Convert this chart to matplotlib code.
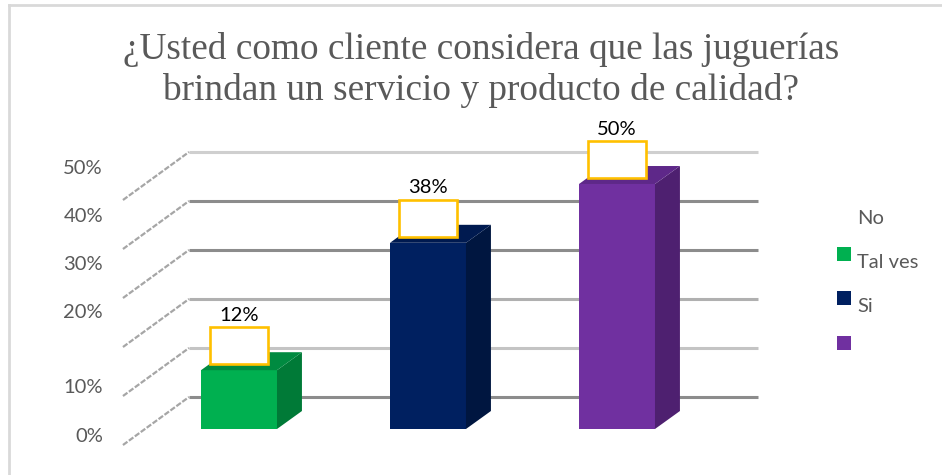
import matplotlib
matplotlib.use("Agg")
import matplotlib.pyplot as plt
from matplotlib.patches import Polygon, Rectangle
from matplotlib.lines import Line2D

# data
categories = ["No", "Tal ves", "Si"]
values = [0.12, 0.38, 0.50]
labels = ["12%", "38%", "50%"]
front_colors = ["#00B050", "#002060", "#7030A0"]
side_colors = ["#007A37", "#001640", "#4E2070"]
top_colors = ["#008A40", "#001a50", "#5E2889"]
tick_vals = [0.0, 0.1, 0.2, 0.3, 0.4, 0.5]
tick_labels = ["0%", "10%", "20%", "30%", "40%", "50%"]
title = "¿Usted como cliente considera que las juguerías\nbrindan un servicio y producto de calidad?"

# geometry of the fake 3D look (data units)
bar_w = 0.402
dep_x, dep_y = 0.132, 0.0367       # bar depth
back_dy = 0.0653                    # back wall offset
wall_left, wall_right = -0.2646, 2.746
floor_x, floor_dy = -0.614, -0.0327
tick_label_shift = [-0.016, -0.016, 0.037, 0.035, 0.033, 0.031]
grid_colors = ["#8c8c8c", "#c4c4c4", "#b0b0b0", "#8c8c8c", "#8c8c8c", "#cfcfcf"]

plt.rcParams["font.family"] = ["Lato", "DejaVu Sans"]

fig = plt.figure(figsize=(9.42, 4.75), dpi=100)
ax = fig.add_axes([0, 0, 1, 1])
ax.set_xlim(-1.2646, 3.7196)
ax.set_ylim(-0.0939, 0.8755)
ax.axis("off")

# gridlines on the back wall + diagonal lines on the side wall
for t, gc in zip(tick_vals, grid_colors):
    ax.plot([wall_left, wall_right], [t + back_dy, t + back_dy], color=gc, lw=2.2,
            solid_capstyle="butt", zorder=1)
    ax.plot([floor_x, wall_left], [t + floor_dy, t + back_dy], color="#a6a6a6", lw=1.6,
            ls=(0, (2.5, 0.8)), zorder=1)

for t, lab, s in zip(tick_vals, tick_labels, tick_label_shift):
    ax.text(-0.7196, t + s, lab, ha="right", va="center", fontsize=14.5, color="#595959")

# bars
for i, (v, fc, sc, tc, lab) in enumerate(zip(values, front_colors, side_colors, top_colors, labels)):
    x0, x1 = i - bar_w / 2, i + bar_w / 2
    ax.bar(i, v, width=bar_w, color=fc, zorder=3)
    ax.add_patch(Polygon([(x1, 0), (x1 + dep_x, dep_y), (x1 + dep_x, v + dep_y), (x1, v)],
                         closed=True, facecolor=sc, edgecolor="none", zorder=3))
    ax.add_patch(Polygon([(x0, v), (x1, v), (x1 + dep_x, v + dep_y), (x0 + dep_x, v + dep_y)],
                         closed=True, facecolor=tc, edgecolor="none", zorder=3))
    # empty data label box + value
    ax.add_patch(Rectangle((i - 0.1535, v + 0.0122), 0.307, 0.0755, facecolor="white",
                           edgecolor="#FFC000", lw=1.9, zorder=4))
    ax.text(i, v + 0.112, lab, ha="center", va="center", fontsize=14.5, color="black", zorder=5)

# title
fig.text(481 / 942, 1 - 70 / 475, title, ha="center", va="center", fontsize=26.8,
         family="Liberation Serif", color="#595959", linespacing=1.22)

# legend (shifted as in the original)
leg_text = ["No", "Tal ves", "Si", ""]
leg_colors = [None] + front_colors
for k in range(4):
    if leg_colors[k] is not None:
        fig.patches.append(Rectangle((837 / 942, 1 - (209 + 44.5 * k + 7) / 475), 14 / 942, 14 / 475,
                                     transform=fig.transFigure, facecolor=leg_colors[k],
                                     edgecolor="none"))
    if leg_text[k]:
        fig.text(857 / 942, 1 - (219 + 44 * k) / 475, leg_text[k], ha="left", va="center",
                 fontsize=14.5, color="#595959")

# chart border (top and left visible)
fig.add_artist(Line2D([9 / 942, 1], [1 - 5 / 475, 1 - 5 / 475], transform=fig.transFigure,
                      color="#d9d9d9", lw=2))
fig.add_artist(Line2D([9 / 942, 9 / 942], [0, 1 - 5 / 475], transform=fig.transFigure,
                      color="#d9d9d9", lw=2))

fig.savefig("out.png", dpi=100)
